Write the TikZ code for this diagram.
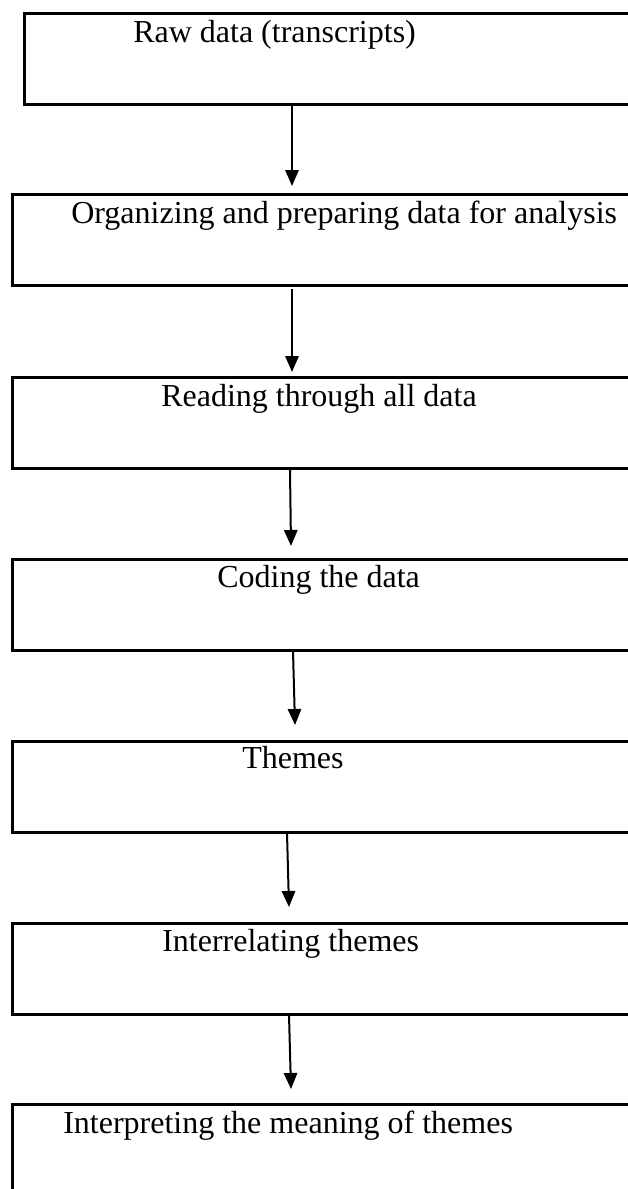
\documentclass[tikz,border=0pt]{standalone}
\usepackage{fontspec}
\setmainfont{Liberation Serif}
\usetikzlibrary{arrows.meta}

\begin{document}
\begin{tikzpicture}[x=0.75pt, y=-0.75pt,
    box/.style={draw, rectangle, line width=2pt, minimum width=470pt, minimum height=68.25pt, inner sep=0pt, anchor=north west},
    lbl/.style={anchor=base west, inner sep=0pt, font=\fontsize{24}{28}\selectfont},
    flow/.style={-{Triangle[length=12pt, width=10pt]}, line width=1.5pt}]
      \clip (0,0) rectangle (628,1189);
      % boxes (right side runs off the page)
      \node[box] (raw) at (23, 12) {};
      \node[box] (org) at (11, 193) {};
      \node[box] (read) at (11, 376) {};
      \node[box] (code) at (11, 558) {};
      \node[box] (themes) at (11, 740) {};
      \node[box] (inter) at (11, 922) {};
      \node[box] (interp) at (11, 1103) {};
      % texts
      \node[lbl] (rawtxt) at (133, 42) {Raw data (transcripts)};
      \node[lbl] (orgtxt) at (71, 223) {Organizing and preparing data for analysis};
      \node[lbl] (readtxt) at (161, 406) {Reading through all data};
      \node[lbl] (codetxt) at (217, 587) {Coding the data};
      \node[lbl] (themestxt) at (242, 768) {Themes};
      \node[lbl] (intertxt) at (162, 951) {Interrelating themes};
      \node[lbl] (interptxt) at (63, 1133) {Interpreting the meaning of themes};
      % arrow ends
      \coordinate (raw-out) at (292, 105);
      \coordinate (org-in) at (292, 186);
      \coordinate (org-out) at (292, 289);
      \coordinate (read-in) at (292, 372);
      \coordinate (read-out) at (290, 470);
      \coordinate (code-in) at (291, 546);
      \coordinate (code-out) at (293, 651);
      \coordinate (themes-in) at (295, 725);
      \coordinate (themes-out) at (287, 833);
      \coordinate (inter-in) at (289, 907);
      \coordinate (inter-out) at (289, 1015);
      \coordinate (interp-in) at (291, 1089);
      \draw[flow] (raw-out) -- (org-in);
      \draw[flow] (org-out) -- (read-in);
      \draw[flow] (read-out) -- (code-in);
      \draw[flow] (code-out) -- (themes-in);
      \draw[flow] (themes-out) -- (inter-in);
      \draw[flow] (inter-out) -- (interp-in);
    \end{tikzpicture}
\end{document}
